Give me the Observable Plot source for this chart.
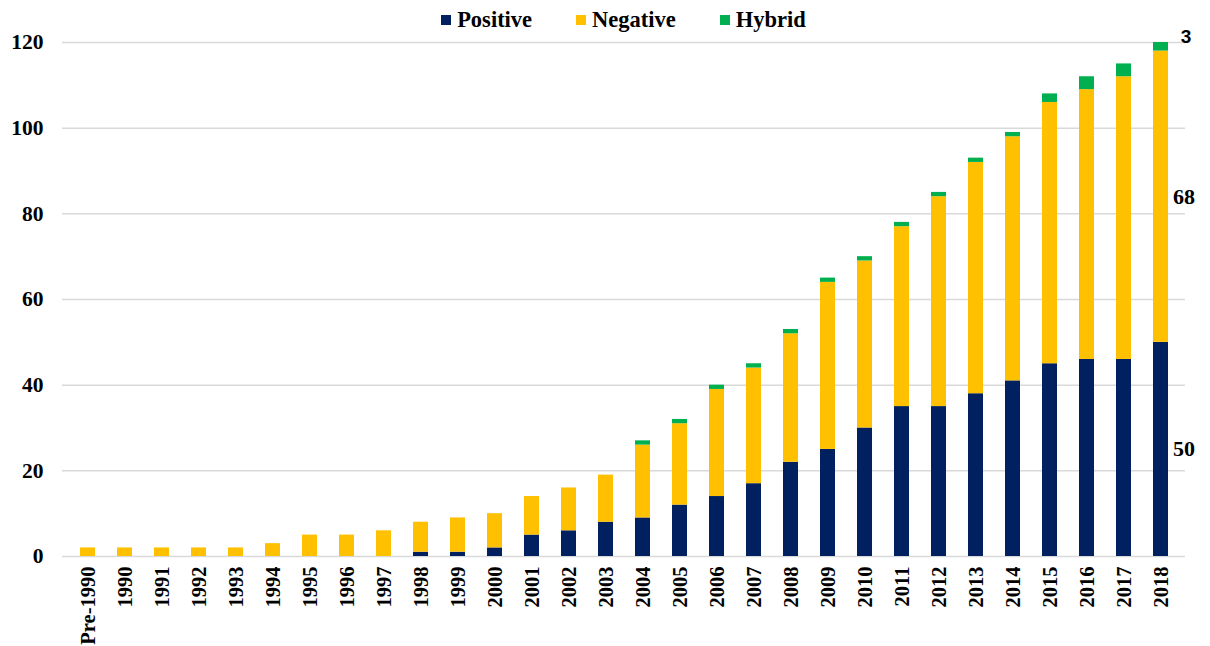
<!DOCTYPE html>
<html><head><meta charset="utf-8">
<script src="https://cdn.jsdelivr.net/npm/d3@7"></script>
<script src="https://cdn.jsdelivr.net/npm/@observablehq/plot@0.6"></script>
<style>
body{margin:0;background:#fff;font-family:"Liberation Serif","Times New Roman",serif;}
#legend{box-sizing:border-box;height:32px;padding-top:8px;margin-left:62px;width:1123px;display:flex;justify-content:center;align-items:center;gap:44px;font-weight:bold;font-size:22.5px;color:#000;}
.item{display:flex;align-items:center;}
.sw{width:10px;height:10px;margin-right:6px;}
</style></head><body>
<div id="legend"></div><div id="chart"></div>
<script>
const years = ["Pre-1990","1990","1991","1992","1993","1994","1995","1996","1997","1998","1999","2000","2001","2002","2003","2004","2005","2006","2007","2008","2009","2010","2011","2012","2013","2014","2015","2016","2017","2018"];
const positive = [0,0,0,0,0,0,0,0,0,1,1,2,5,6,8,9,12,14,17,22,25,30,35,35,38,41,45,46,46,50];
const negative = [2,2,2,2,2,3,5,5,6,7,8,8,9,10,11,17,19,25,27,30,39,39,42,49,54,57,61,63,66,68];
const hybrid = [0,0,0,0,0,0,0,0,0,0,0,0,0,0,0,1,1,1,1,1,1,1,1,1,1,1,2,3,3,3];
const seriesNames = ["Positive","Negative","Hybrid"];
const seriesColors = ["#002060","#FFC000","#00B050"];
const yTicks = [0,20,40,60,80,100,120];

const seriesValues = [positive, negative, hybrid];
const data = [];
years.forEach((year, i) => {
  seriesNames.forEach((s, k) => data.push({year, series: s, value: seriesValues[k][i]}));
});
const lastYear = years[years.length - 1];
const lastMain = data.filter(d => d.year === lastYear);

// legend
const legend = document.getElementById("legend");
seriesNames.forEach((s, k) => {
  const it = document.createElement("div"); it.className = "item";
  const sw = document.createElement("div"); sw.className = "sw"; sw.style.background = seriesColors[k];
  const t = document.createElement("span"); t.textContent = s;
  it.appendChild(sw); it.appendChild(t); legend.appendChild(it);
});

const chart = Plot.plot({
  width: 1210, height: 614,
  marginTop: 10, marginBottom: 90, marginLeft: 62, marginRight: 25,
  style: {fontFamily: "Liberation Serif, Times New Roman, serif", fontWeight: "bold", color: "#000", background: "#fff", overflow: "visible"},
  x: {domain: years, paddingInner: 0.6, paddingOuter: 0.3, label: null},
  y: {domain: [0, 120], label: null},
  color: {domain: seriesNames, range: seriesColors},
  marks: [
    Plot.ruleY(yTicks, {stroke: "#d9d9d9", strokeWidth: 1.5}),
    Plot.barY(data, {x: "year", y: "value", fill: "series", clip: true}),
    Plot.axisX({tickRotate: -90, tickSize: 0, tickPadding: 10, fontSize: 20.5, label: null}),
    Plot.axisY({ticks: yTicks, tickSize: 0, tickPadding: 19, fontSize: 21.5, label: null}),
    Plot.text(lastMain, Plot.stackY({x: "year", y: "value", z: "series", text: d => d.series === "Hybrid" ? "" : String(d.value), dx: 23, fontSize: 22, fontWeight: "bold", fill: "#000"})),
    Plot.text(lastMain, Plot.stackY({x: "year", y: "value", z: "series", text: d => d.series === "Hybrid" ? String(d.value) : "", dx: 25, dy: -7.5, fontSize: 19, fontFamily: "Liberation Sans, Arial, sans-serif", fontWeight: "bold", fill: "#000"}))
  ]
});
document.getElementById("chart").appendChild(chart);
</script>
</body></html>
